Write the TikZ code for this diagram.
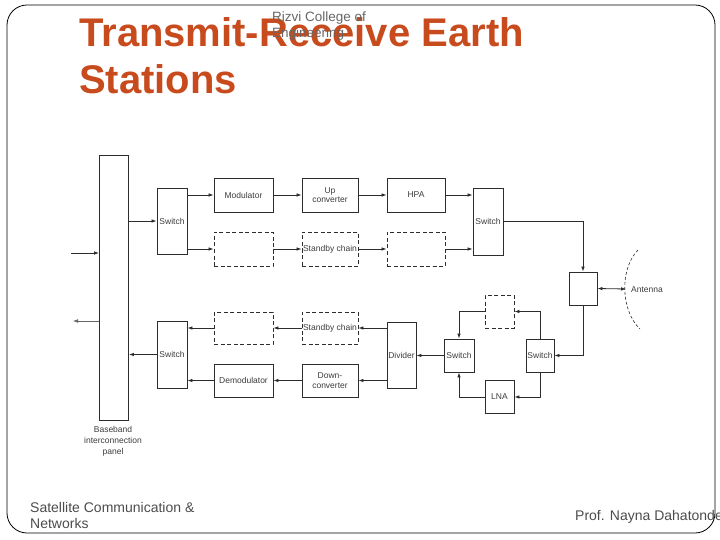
\documentclass[tikz,border=0pt]{standalone}
\usepackage{fontspec}
\setmainfont{Liberation Sans}
\usetikzlibrary{arrows.meta}
\definecolor{titlec}{RGB}{200,75,30}
\definecolor{linec}{RGB}{45,45,45}
\definecolor{textc}{RGB}{60,60,60}
\begin{document}
\begin{tikzpicture}[x=1pt,y=-1pt,
  blk/.style={draw=linec,line width=0.9pt,inner sep=1pt,align=center,
    font=\fontsize{8.5}{9.5}\selectfont,text=textc},
  dblk/.style={blk,dashed,dash pattern=on 4pt off 2.5pt},
  conn/.style={draw=linec,line width=0.8pt,-{Latex[length=5pt,width=3.6pt]}},
  line/.style={draw=linec,line width=0.8pt}]
\useasboundingbox (0,0) rectangle (720,540);
% frame
\draw[line width=0.8pt,rounded corners=20pt] (7,5) rectangle (715,533);
% titles
\node[anchor=base west,text=titlec,font=\fontsize{40}{47}\selectfont\bfseries,inner sep=0pt] (t1) at (79,47) {Transmit-Receive Earth};
\node[anchor=base west,text=titlec,font=\fontsize{40}{47}\selectfont\bfseries,inner sep=0pt] (t2) at (79,94) {Stations};
\node[anchor=base west,text=black!60,font=\fontsize{13.5}{15}\selectfont,inner sep=0pt] (r1) at (272,22) {Rizvi College of};
\node[anchor=base west,text=black!60,font=\fontsize{13.5}{15}\selectfont,inner sep=0pt] (r2) at (272,38) {Engineering};
\node[anchor=base west,text=black!70,font=\fontsize{14}{16}\selectfont,inner sep=0pt] (f1) at (30,512) {Satellite Communication \&};
\node[anchor=base west,text=black!70,font=\fontsize{14}{16}\selectfont,inner sep=0pt] (f2) at (30,528) {Networks};
\node[anchor=base west,text=black!70,font=\fontsize{14}{16}\selectfont,inner sep=0pt] (f3) at (575,520) {Prof. Nayna Dahatonde};
% baseband panel
\node[blk,minimum width=29pt,minimum height=265pt] (panel) at (114,287.5) {};
\node[align=center,font=\fontsize{8.5}{11}\selectfont,text=textc,anchor=north] (plbl) at (113,423) {Baseband\\interconnection\\panel};
% transmit chain
\node[blk,minimum width=30pt,minimum height=66pt] (txsw) at (172,221) {Switch};
\node[blk,minimum width=59pt,minimum height=34pt] (mod) at (243.5,195) {Modulator};
\node[blk,minimum width=56pt,minimum height=34pt] (upc) at (330,195) {Up\\converter};
\node[blk,minimum width=58pt,minimum height=34pt] (hpa) at (416,195) {HPA};
\node[dblk,minimum width=59pt,minimum height=34pt] (sb1) at (243.5,249) {};
\node[dblk,minimum width=56pt,minimum height=34pt] (sb2) at (330,249) {Standby chain};
\node[dblk,minimum width=58pt,minimum height=34pt] (sb3) at (416,249) {};
\node[blk,minimum width=30pt,minimum height=67pt] (txsw2) at (488,221.5) {Switch};
\node[blk,minimum width=28pt,minimum height=33pt] (circ) at (583,288.5) {};
% receive chain
\node[blk,minimum width=28pt,minimum height=33pt] (rxsw2) at (540,355.5) {Switch};
\node[blk,minimum width=30pt,minimum height=33pt] (rxsw1) at (459,355.5) {Switch};
\node[dblk,minimum width=29pt,minimum height=33pt] (lnasb) at (499.5,311.5) {};
\node[blk,minimum width=29pt,minimum height=33pt] (lna) at (499.5,397) {LNA};
\node[blk,minimum width=29pt,minimum height=66pt] (div) at (401.5,355) {Divider};
\node[dblk,minimum width=56pt,minimum height=32pt] (rsb2) at (330,328) {Standby chain};
\node[blk,minimum width=56pt,minimum height=33pt] (dnc) at (330,380.5) {Down-\\converter};
\node[dblk,minimum width=59pt,minimum height=32pt] (rsb1) at (243.5,328) {};
\node[blk,minimum width=59pt,minimum height=33pt] (demod) at (243.5,380.5) {Demodulator};
\node[blk,minimum width=30pt,minimum height=67pt] (rxsw) at (172,354.5) {Switch};
% antenna
\coordinate (a1) at (638,250);
\coordinate (a2) at (640,329);
\coordinate (antpt) at (626,289);
\draw[line,dashed,dash pattern=on 3pt off 2pt,line width=0.6pt] (a1) .. controls (620,268) and (620,310) .. (a2);
\node[anchor=west,font=\fontsize{8.5}{10}\selectfont,text=textc,inner sep=0pt] (antl) at (631,290) {Antenna};
% io
\coordinate (inL) at (71,253);
\coordinate (outL) at (73,321);
\draw[conn] (inL) -- (panel.west |- inL);
\draw[conn,draw=black!60,line width=0.5pt] (panel.west |- outL) -- (outL);
% tx connectors
\draw[conn] (panel.east |- txsw) -- (txsw.west);
\draw[conn] (txsw.east |- mod) -- (mod.west);
\draw[conn] (txsw.east |- sb1) -- (sb1.west);
\draw[conn] (mod) -- (upc);
\draw[conn] (upc) -- (hpa);
\draw[conn] (sb1) -- (sb2);
\draw[conn] (sb2) -- (sb3);
\draw[conn] (hpa.east) -- (txsw2.west |- hpa);
\draw[conn] (sb3.east) -- (txsw2.west |- sb3);
\draw[conn] (txsw2.east) -| (circ.north);
\draw[line,{Latex[length=5pt,width=3.6pt]}-{Latex[length=5pt,width=3.6pt]}] (circ.east) -- (antpt);
% rx connectors
\draw[conn] (circ.south) |- (rxsw2.east);
\draw[conn] (rxsw2.north) |- (lnasb.east);
\draw[conn] (rxsw2.south) |- (lna.east);
\draw[conn] (lnasb.west) -| (rxsw1.north);
\draw[conn] (lna.west) -| (rxsw1.south);
\draw[conn] (rxsw1.west) -- (div.east |- rxsw1);
\draw[conn] (div.west |- rsb2) -- (rsb2.east);
\draw[conn] (div.west |- dnc) -- (dnc.east);
\draw[conn] (rsb2) -- (rsb1);
\draw[conn] (dnc) -- (demod);
\draw[conn] (rsb1.west) -- (rxsw.east |- rsb1);
\draw[conn] (demod.west) -- (rxsw.east |- demod);
\draw[conn] (rxsw.west) -- (panel.east |- rxsw);
\end{tikzpicture}
\end{document}
